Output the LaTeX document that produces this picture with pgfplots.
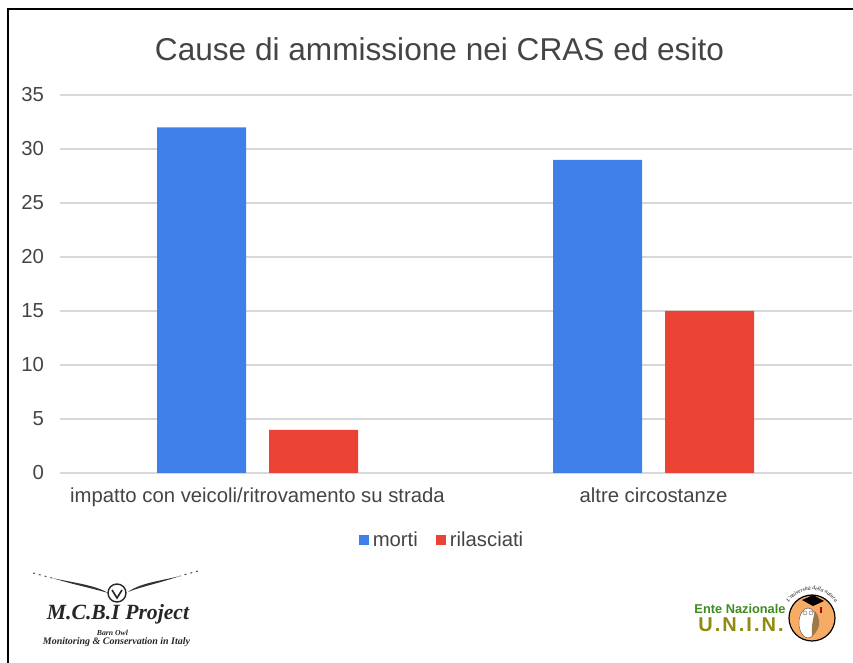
\documentclass[border=0pt]{standalone}
\usepackage{fontspec}
\setmainfont{Liberation Sans}
\newfontfamily\logoserif{Liberation Serif}
\usepackage{pgfplots}
\pgfplotsset{compat=1.18}
\usetikzlibrary{decorations.text}
\definecolor{gbar}{HTML}{3F7FEA}
\definecolor{rbar}{HTML}{EA4335}
\definecolor{txt}{HTML}{444444}
\definecolor{gridc}{HTML}{D8D8D8}
\definecolor{logogreen}{HTML}{3F8A22}
\definecolor{logoolive}{HTML}{8F8A10}
\definecolor{logoorange}{HTML}{F7AC66}
\definecolor{owlbrown}{HTML}{9A7A4A}
\begin{document}
\begin{tikzpicture}[x=1pt,y=1pt]
\path[use as bounding box] (0,0) rectangle (853,663);
% frame, runs off the bottom of the picture
\draw[black,line width=2pt] (7.5,0) -- (7.5,654) -- (853,654);
\begin{axis}[
    at={(59.5pt,190pt)}, anchor=south west,
    scale only axis,
    width=792pt, height=378pt,
    ymin=0, ymax=35,
    xmin=-0.5, xmax=1.5,
    ybar=23pt, bar width=89pt,
    xtick={0,1},
    xticklabels={impatto con veicoli/ritrovamento su strada, altre circostanze},
    ytick={0,5,...,35},
    ymajorgrids,
    grid style={gridc,line width=1.2pt},
    axis line style={draw=none},
    tick style={draw=none},
    tick label style={font=\fontsize{20.3}{24}\selectfont,text=txt},
    /pgf/number format/assume math mode=true,
    yticklabel style={xshift=-12pt},
    xticklabel style={yshift=-7pt},
    title={Cause di ammissione nei CRAS ed esito},
    title style={at={(0.5,1)},anchor=south,yshift=25pt,xshift=-16pt,font=\fontsize{31.6}{36}\selectfont,text=txt},
    legend style={at={(382.5pt,-67pt)},anchor=center,draw=none,fill=none,legend columns=2,
      font=\fontsize{20.3}{24}\selectfont,text=txt,
      /tikz/every even column/.append style={column sep=16pt}},
    legend image code/.code={\fill[#1] (0,-5pt) rectangle (10pt,5pt);},
]
\addplot[fill=gbar,draw=none] coordinates {(0,32)(1,29)};
\addplot[fill=rbar,draw=none] coordinates {(0,4)(1,15)};
\legend{\hspace{2pt}morti,\hspace{2pt}rilasciati}
\end{axis}
% left logo
\fill[black!80] (52,85) .. controls (75,80) and (95,78) .. (108,70) .. controls (95,74) and (75,78) .. (52,85);
\fill[black!80] (180,87) .. controls (160,82) and (140,80) .. (128,71) .. controls (140,76) and (160,80) .. (180,87);
\draw[black!70,line width=1pt,dash pattern=on 2pt off 4pt] (33,90) -- (52,85);
\draw[black!70,line width=1pt,dash pattern=on 2pt off 4pt] (198,92) -- (180,87);
\draw[black!85,line width=1.4pt] (117,70) circle (9);
\draw[black!85,line width=1.6pt] (112,73) -- (117,65) -- (122,73);
\node[inner sep=0pt,font=\logoserif\bfseries\itshape\fontsize{21.7}{24}\selectfont,text=black!85] at (118,49) {M.C.B.I Project};
\node[inner sep=0pt,font=\logoserif\bfseries\itshape\fontsize{7.7}{8}\selectfont,text=black!85] at (112.5,30.5) {Barn Owl};
\node[inner sep=0pt,font=\logoserif\bfseries\itshape\fontsize{10}{10}\selectfont,text=black!85] at (116.5,21) {Monitoring \& Conservation in Italy};
% right logo
\node[inner sep=0pt,font=\bfseries\fontsize{12.8}{13}\selectfont,text=logogreen] at (740,54) {Ente Nazionale};
\node[inner sep=0pt,font=\bfseries\fontsize{20}{20}\selectfont\addfontfeature{LetterSpace=10},text=logoolive] at (741,38) {U.N.I.N.};
\fill[logoorange,draw=black,line width=1.2pt] (812,45) circle (23);
\fill[white,draw=black!60,line width=.5pt] (808,40) ellipse (9 and 15);
\fill[owlbrown] (812,27) .. controls (821,34) and (821,44) .. (815,52) .. controls (813,44) and (811,36) .. (812,27);
\fill[black] (802,63) -- (813,68) -- (824,62) -- (813,57) -- cycle;
\draw[black!60,line width=.4pt] (805,50) circle (2);
\draw[black!60,line width=.4pt] (811,50) circle (2);
\fill[red!70!black] (820,50) rectangle (821.5,56);
\path[decorate,decoration={text along path,text align=center,
  text={|\logoserif\itshape\fontsize{5.5}{6}\selectfont|L'università della natura}}]
  (812,45) ++(165:28) arc (165:15:28);
\end{tikzpicture}
\end{document}
